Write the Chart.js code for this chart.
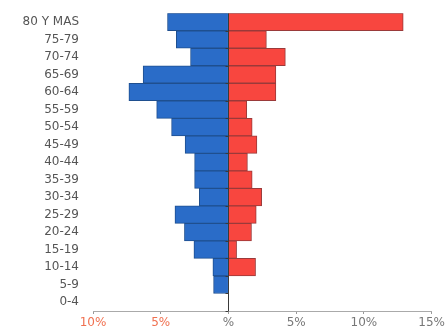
<!DOCTYPE html>
<html>
<head>
<meta charset="utf-8">
<script src="https://cdn.jsdelivr.net/npm/chart.js@4/dist/chart.umd.min.js"></script>
<style>
  html, body { margin: 0; padding: 0; background: #fff; }
  #wrap { width: 447px; height: 331px; }
</style>
</head>
<body>
<div id="wrap"><canvas id="pyramid"></canvas></div>
<script>
// age groups, top to bottom
const ageGroups = ['80 Y MAS', '75-79', '70-74', '65-69', '60-64', '55-59', '50-54', '45-49',
  '40-44', '35-39', '30-34', '25-29', '20-24', '15-19', '10-14', '5-9', '0-4'];
// percentages
const leftValues = [4.5, 3.85, 2.8, 6.3, 7.35, 5.3, 4.2, 3.2, 2.5, 2.5, 2.15, 3.95, 3.25, 2.55, 1.15, 1.1, 0];
const rightValues = [12.9, 2.8, 4.2, 3.5, 3.5, 1.35, 1.75, 2.1, 1.4, 1.75, 2.45, 2.05, 1.7, 0.6, 2.0, 0, 0];
const xTicks = [-10, -5, 0, 5, 10, 15];

// vertical line at 0 with small marks between the age groups
const centerLine = {
  id: 'centerLine',
  afterDatasetsDraw(chart) {
    const { ctx, chartArea, scales } = chart;
    const x0 = Math.round(scales.x.getPixelForValue(0)) + 0.5;
    ctx.save();
    ctx.strokeStyle = '#3a3a3a';
    ctx.lineWidth = 1;
    ctx.beginPath();
    ctx.moveTo(x0, chartArea.top);
    ctx.lineTo(x0, chartArea.bottom);
    const n = ageGroups.length;
    for (let i = 0; i < n; i++) {
      const y = Math.round(scales.y.getPixelForValue(i) + (chartArea.bottom - chartArea.top) / n / 2) + 0.5;
      ctx.moveTo(x0 - 3, y);
      ctx.lineTo(x0, y);
    }
    ctx.stroke();
    ctx.restore();
  }
};

const ctx = document.getElementById('pyramid');
new Chart(ctx, {
  type: 'bar',
  data: {
    labels: ageGroups,
    datasets: [{
      data: leftValues.map(v => -v),
      backgroundColor: '#2a6cc8',
      borderColor: '#1f4f8f',
      borderWidth: 1,
      barPercentage: 1,
      categoryPercentage: 1
    }, {
      data: rightValues,
      backgroundColor: '#f8463f',
      borderColor: '#9a3a3a',
      borderWidth: 1,
      barPercentage: 1,
      categoryPercentage: 1
    }]
  },
  options: {
    indexAxis: 'y',
    responsive: true,
    maintainAspectRatio: false,
    animation: false,
    layout: { padding: { top: 9, right: 11, left: 0, bottom: 0 } },
    plugins: { legend: { display: false }, tooltip: { enabled: false } },
    scales: {
      x: {
        stacked: true,
        min: -10,
        max: 15,
        afterBuildTicks: axis => { axis.ticks = xTicks.map(v => ({ value: v })); },
        afterFit: axis => { axis.height = 20; },
        grid: {
          drawOnChartArea: false,
          drawTicks: true,
          tickLength: 3,
          color: '#999'
        },
        border: { display: true, color: '#aaa', dash: [2, 2] },
        ticks: {
          padding: 2,
          font: { family: 'DejaVu Sans', size: 12 },
          color: c => c.tick.value < 0 ? '#f07050' : '#777',
          callback: v => v === 0 ? '%' : Math.abs(v) + '%'
        }
      },
      y: {
        stacked: true,
        afterFit: axis => { axis.width = 93; },
        grid: { display: false },
        border: { display: false },
        ticks: {
          autoSkip: false,
          padding: 6,
          font: { family: 'DejaVu Sans', size: 12 },
          color: '#555'
        }
      }
    }
  },
  plugins: [centerLine]
});
</script>
</body>
</html>
